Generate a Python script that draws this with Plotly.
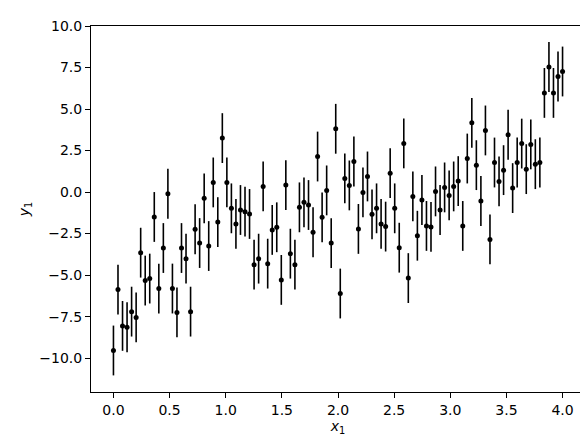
import numpy as np
import plotly.graph_objects as go

# x values are evenly spaced from 0 to 4
x_start = 0.0
x_stop = 4.0
n_points = 100

y_values = [
    -9.54, -5.87, -8.06, -8.14, -7.20, -7.55, -3.65, -5.33, -5.21, -1.50,
    -5.81, -3.37, -0.10, -5.81, -7.25, -3.37, -4.01, -7.20, -2.24, -3.07,
    -0.38, -3.25, 0.58, -1.81, 3.25, 0.58, -0.98, -1.92, -1.08, -1.18,
    -1.32, -4.37, -4.01, 0.34, -4.31, -2.28, -2.12, -5.29, 0.42, -3.71,
    -4.37, -0.92, -0.62, -0.78, -2.42, 2.14, -1.52, 0.10, -3.07, 3.81,
    -6.11, 0.82, 0.40, 1.84, -2.22, -0.02, 0.94, -1.34, -0.98, -1.92,
    -2.08, 1.14, -0.98, -3.35, 2.93, -5.18, -0.26, -2.63, -0.48, -2.04,
    -2.10, 0.04, -1.08, 0.28, -0.20, 0.34, 0.66, -2.04, 2.02, 4.17,
    1.62, -0.54, 3.71, -2.85, 1.78, 0.64, 1.32, 3.45, 0.24, 1.78,
    2.92, 1.38, 2.87, 1.68, 1.78, 5.97, 7.53, 5.97, 6.96, 7.26,
]
y_error = 1.5

x_values = np.linspace(x_start, x_stop, n_points)

fig = go.Figure()
fig.add_trace(go.Scatter(
    x=x_values,
    y=y_values,
    mode="markers",
    marker=dict(color="black", size=5),
    error_y=dict(type="constant", value=y_error, color="black", thickness=1.6, width=0),
    showlegend=False,
))

axis_style = dict(
    showline=True,
    linecolor="black",
    linewidth=1,
    mirror=True,
    ticks="outside",
    ticklen=5,
    tickcolor="black",
    showgrid=False,
    zeroline=False,
    tickfont=dict(family="DejaVu Sans", size=14, color="black"),
    tickformat=".1f",
)

fig.update_xaxes(
    range=[-0.2, 4.2],
    tickvals=[0, 0.5, 1, 1.5, 2, 2.5, 3, 3.5, 4],
    title=dict(text="<i>x</i><sub>1</sub>", font=dict(family="DejaVu Sans", size=14, color="black"), standoff=2),
    **axis_style,
)
fig.update_yaxes(
    range=[-12.04, 10.0],
    tickvals=[-10, -7.5, -5, -2.5, 0, 2.5, 5, 7.5, 10],
    title=dict(text="<i>y</i><sub>1</sub>", font=dict(family="DejaVu Sans", size=14, color="black"), standoff=6),
    **axis_style,
)

fig.update_layout(
    width=588,
    height=438,
    margin=dict(l=83, r=10, t=15, b=54),
    paper_bgcolor="white",
    plot_bgcolor="white",
)

fig.write_html("out.html")
